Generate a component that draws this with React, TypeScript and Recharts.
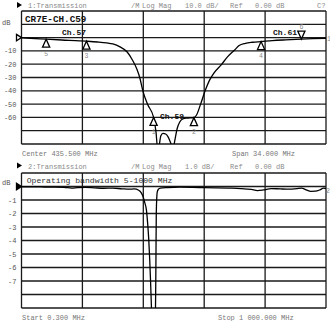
import React from 'react';
import { ComposedChart, Line, Scatter, XAxis, YAxis, CartesianGrid, ReferenceDot } from 'recharts';

// trace 1: notch around Ch.59, center 435.5 MHz, span 34 MHz
const notchFreq = [418.5, 419.5, 421.25, 423, 425, 425.75, 427, 428, 428.7, 429.5, 430.3, 430.9, 431.4, 431.7, 432.05, 432.6, 433.25, 433.5, 433.72, 433.9, 434.05, 434.3, 434.6, 434.9, 435.2, 435.42, 435.6, 435.9, 436.17, 436.5, 436.9, 437.3, 437.75, 438.06, 438.5, 439, 439.5, 440, 440.8, 441.5, 442.3, 442.8, 443.5, 444.3, 445.25, 446.5, 448, 449.75, 451, 452.5];
const notchDb = [-0.2, -0.5, -1.2, -1.8, -2.4, -2.7, -3.3, -4.0, -4.8, -7, -10.8, -17, -24, -30, -40, -50.5, -60, -70, -84, -80, -74, -72, -72.5, -75, -80, -84, -78, -68, -63.5, -61.2, -60.5, -60.4, -60.2, -58, -50, -40, -32, -26.5, -20.5, -14.5, -9.3, -6, -4.3, -3.5, -3.0, -2.3, -1.7, -1.1, -0.8, -0.5];

// markers on trace 1
const markerId = ['5', '3', '1', '2', '4', '6'];
const markerFreq = [421.25, 425.75, 433.25, 437.75, 445.25, 449.75];
const markerDb = [-1.2, -2.7, -60, -60.2, -3.0, -1.1];
const markerUp = [true, true, true, true, true, false];

// trace 2: wideband, 0.3 .. 1000 MHz
const wideFreq = [0.3, 25, 50, 80, 110, 140, 165, 185, 210, 240, 270, 300, 330, 355, 370, 385, 393, 399.5, 405, 410.5, 414, 418, 421, 424, 427, 430, 436, 440, 441.5, 442.8, 444.5, 446, 450, 456, 480, 520, 560, 600, 640, 680, 720, 755, 775, 795, 820, 850, 880, 905, 920, 935, 950, 965, 980, 992, 1000];
const wideDb = [-0.02, -0.03, -0.02, -0.05, -0.04, -0.06, -0.12, -0.08, -0.07, -0.1, -0.13, -0.12, -0.17, -0.2, -0.18, -0.28, -0.45, -0.75, -1.2, -1.75, -2.6, -3.9, -5.3, -7, -9, -10.5, -10.5, -9.5, -6, -2, -0.8, -0.4, -0.2, -0.12, -0.08, -0.05, -0.06, -0.08, -0.1, -0.12, -0.15, -0.22, -0.3, -0.25, -0.15, -0.18, -0.2, -0.15, -0.12, -0.25, -0.36, -0.35, -0.25, -0.12, -0.15];

const topXTicks = [418.5, 421.9, 425.3, 428.7, 432.1, 435.5, 438.9, 442.3, 445.7, 449.1, 452.5];
const topYTicks = [20, 10, 0, -10, -20, -30, -40, -50, -60, -70, -80];
const topYLabels = ['', '', '', '-10', '-20', '-30', '-40', '-50', '-60', '', ''];
const botXTicks = [0.3, 100.27, 200.24, 300.21, 400.18, 500.15, 600.12, 700.09, 800.06, 900.03, 1000];
const botYTicks = [1, 0, -1, -2, -3, -4, -5, -6, -7, -8, -9];
const botYLabels = ['', '', '-1', '-2', '-3', '-4', '-5', '-6', '-7', '', ''];

const MONO = '"Liberation Mono", "DejaVu Sans Mono", monospace';
const GRID = '#1a1a1a';

const notchData = notchFreq.map((f, i) => ({ f, db: notchDb[i] }));
const markerData = markerFreq.map((f, i) => ({ f, db: markerDb[i], id: markerId[i], up: markerUp[i] }));
const wideData = wideFreq.map((f, i) => ({ f, db: wideDb[i] }));

const MarkerShape = (props: any) => {
  const { cx, cy, payload } = props;
  if (cx == null || cy == null) return null;
  const h = 8;
  const w = 3.6;
  if (payload.up) {
    return (
      <g>
        <polygon points={`${cx},${cy} ${cx - w},${cy + h} ${cx + w},${cy + h}`} fill="#fff" stroke="#000" strokeWidth={1.3} />
        <text x={cx} y={cy + 16.5} textAnchor="middle" fontSize={6.5} fontFamily={MONO} fill="#8a8a8a">{payload.id}</text>
      </g>
    );
  }
  return (
    <g>
      <polygon points={`${cx},${cy} ${cx - w},${cy - h} ${cx + w},${cy - h}`} fill="#fff" stroke="#000" strokeWidth={1.3} />
      <text x={cx} y={cy - 10} textAnchor="middle" fontSize={6.5} fontFamily={MONO} fill="#8a8a8a">{payload.id}</text>
    </g>
  );
};

const RefArrow = (filled: boolean) => (props: any) => {
  const { cx, cy } = props;
  if (cx == null || cy == null) return null;
  return (
    <polygon
      points={`${cx - 5},${cy - 3.2} ${cx},${cy} ${cx - 5},${cy + 3.2}`}
      fill={filled ? '#000' : '#fff'}
      stroke="#000"
      strokeWidth={1.3}
    />
  );
};

const makeTick = (ticks: number[], labels: string[]) => (props: any) => {
  const { x, y, payload } = props;
  const idx = ticks.indexOf(payload.value);
  const txt = idx >= 0 ? labels[idx] : '';
  if (!txt) return null;
  return (
    <text x={x} y={y} dy={2.5} textAnchor="end" fontSize={7} fontFamily={MONO} fill="#555">{txt}</text>
  );
};

const headerStyle = { fontSize: 7, fontFamily: MONO, fill: '#8a8a8a' } as const;
const footStyle = { fontSize: 7, fontFamily: MONO, fill: '#777' } as const;

export default function App() {
  return (
    <div style={{ position: 'absolute', left: 0, top: 0, width: 330, height: 321, background: '#fff', overflow: 'hidden' }}>
      <div style={{ position: 'absolute', left: 0, top: 0 }}>
        <ComposedChart width={330} height={160} margin={{ top: 11, right: 4, bottom: 16, left: 0 }}>
          <CartesianGrid stroke={GRID} strokeWidth={1.3} />
          <XAxis type="number" dataKey="f" domain={[418.5, 452.5]} ticks={topXTicks} hide allowDataOverflow />
          <YAxis
            type="number"
            domain={[-80, 20]}
            ticks={topYTicks}
            width={21.5}
            axisLine={false}
            tickLine={false}
            tickSize={3}
            tickMargin={2}
            interval={0}
            allowDataOverflow
            tick={makeTick(topYTicks, topYLabels)}
          />
          <Line data={notchData} dataKey="db" type="monotone" stroke="#000" strokeWidth={1.3} dot={false} isAnimationActive={false} />
          <Scatter data={markerData} dataKey="db" shape={MarkerShape} isAnimationActive={false} />
          <ReferenceDot x={418.5} y={0} r={0} shape={RefArrow(false)} ifOverflow="visible" />
        </ComposedChart>
      </div>
      <div style={{ position: 'absolute', left: 0, top: 160 }}>
        <ComposedChart width={330} height={161} margin={{ top: 13, right: 4, bottom: 13, left: 0 }}>
          <CartesianGrid stroke={GRID} strokeWidth={1.3} />
          <XAxis type="number" dataKey="f" domain={[0.3, 1000]} ticks={botXTicks} hide allowDataOverflow />
          <YAxis
            type="number"
            domain={[-9, 1]}
            ticks={botYTicks}
            width={21.5}
            axisLine={false}
            tickLine={false}
            tickSize={3}
            tickMargin={2}
            interval={0}
            allowDataOverflow
            tick={makeTick(botYTicks, botYLabels)}
          />
          <Line data={wideData} dataKey="db" type="monotone" stroke="#000" strokeWidth={1.3} dot={false} isAnimationActive={false} />
          <ReferenceDot x={0.3} y={0} r={0} shape={RefArrow(true)} ifOverflow="visible" />
        </ComposedChart>
      </div>
      <svg width={330} height={321} style={{ position: 'absolute', left: 0, top: 0, pointerEvents: 'none' }}>
        {/* trace 1 header */}
        <polygon points="17,2 22,5 17,8" fill="#000" />
        <text x={28} y={8} {...headerStyle}>1:Transmission</text>
        <text x={131} y={8} {...headerStyle}>/M</text>
        <text x={142} y={8} {...headerStyle}>Log Mag</text>
        <text x={185} y={8} {...headerStyle}>10.0 dB/</text>
        <text x={230} y={8} {...headerStyle}>Ref</text>
        <text x={255} y={8} {...headerStyle}>0.00 dB</text>
        <text x={317} y={8} {...headerStyle}>C?</text>
        <text x={2} y={25} fontSize={7} fontFamily={MONO} fill="#555">dB</text>
        <text x={327} y={41} fontSize={6.5} fontFamily={MONO} fill="#8a8a8a">1</text>
        <text x={25} y={21.5} fontSize={9.3} fontWeight="bold" fontFamily={MONO} fill="#111">CR7E-CH.C59</text>
        <text x={62} y={34.5} fontSize={8} fontWeight="bold" fontFamily={MONO} fill="#111">Ch.57</text>
        <text x={273} y={34.5} fontSize={8} fontWeight="bold" fontFamily={MONO} fill="#111">Ch.61</text>
        <text x={160} y={118.5} fontSize={8} fontWeight="bold" fontFamily={MONO} fill="#111">Ch.59</text>
        <text x={22} y={156} {...footStyle}>Center 435.500 MHz</text>
        <text x={232} y={156} {...footStyle}>Span 34.000 MHz</text>
        {/* trace 2 header */}
        <polygon points="17,162.5 22,165.5 17,168.5" fill="#000" />
        <text x={28} y={168.5} {...headerStyle}>2:Transmission</text>
        <text x={131} y={168.5} {...headerStyle}>/M</text>
        <text x={142} y={168.5} {...headerStyle}>Log Mag</text>
        <text x={185} y={168.5} {...headerStyle}>1.0 dB/</text>
        <text x={230} y={168.5} {...headerStyle}>Ref</text>
        <text x={255} y={168.5} {...headerStyle}>0.00 dB</text>
        <text x={2} y={185} fontSize={7} fontFamily={MONO} fill="#555">dB</text>
        <text x={326} y={192.5} fontSize={6.5} fontFamily={MONO} fill="#8a8a8a">2</text>
        <text x={26.7} y={183} fontSize={8.1} fontFamily={MONO} fill="#333">Operating bandwidth 5-1000 MHz</text>
        <text x={22} y={320} {...footStyle}>Start 0.300 MHz</text>
        <text x={218} y={320} {...footStyle}>Stop 1 000.000 MHz</text>
      </svg>
    </div>
  );
}
